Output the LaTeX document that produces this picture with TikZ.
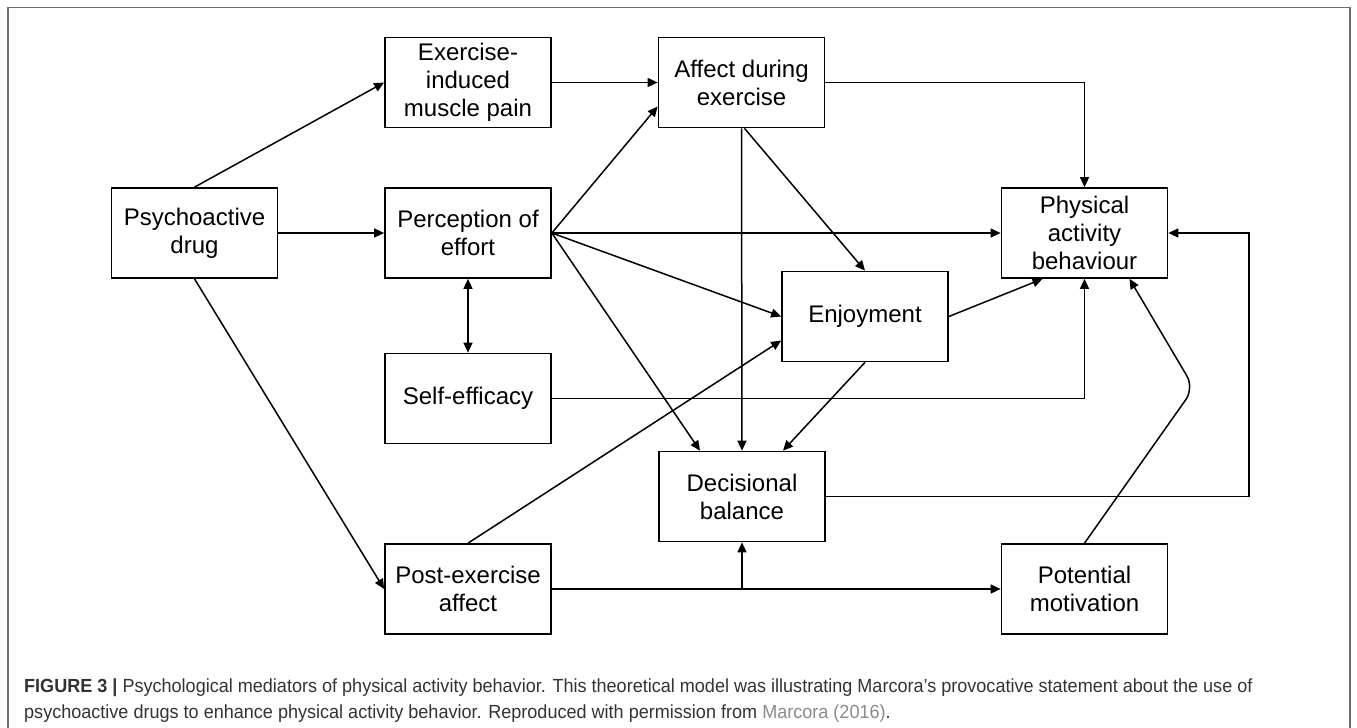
\documentclass[tikz,border=0pt]{standalone}
\usepackage{fontspec}
\setmainfont{Liberation Sans}
\newfontfamily\capfont[FakeStretch=0.95]{Liberation Sans}
\usetikzlibrary{positioning,arrows.meta}
\definecolor{framegray}{HTML}{6E6E6E}
\definecolor{linkgray}{HTML}{8A8A8A}
\definecolor{captext}{HTML}{333333}

\begin{document}
\begin{tikzpicture}[x=1pt,y=-1pt,
	box/.style={draw, line width=1.7pt, minimum width=166pt, minimum height=90pt,
		align=center, inner sep=2pt, font=\fontsize{24}{28}\selectfont},
	arr/.style={-{Triangle[length=10pt,width=9pt]}, line width=1.5pt},
	dbl/.style={{Triangle[length=10pt,width=9pt]}-{Triangle[length=10pt,width=9pt]}, line width=1.5pt},
	captxt/.style={anchor=base west, inner sep=0pt, text=captext,
		font=\capfont\fontsize{19}{22}\selectfont}]

	\useasboundingbox (0,0) rectangle (1357,728);
	\draw[framegray, line width=1.5pt] (8,728) -- (8,7.5) -- (1350,7.5) -- (1350,728);

	\node[box] (drug) at (194.5,233) {Psychoactive\\drug};
	\node[box] (pain) at (468,82.5) {Exercise-\\induced\\muscle pain};
	\node[box] (effort) at (468,233) {Perception of\\effort};
	\node[box] (selfeff) at (468,398.5) {Self-efficacy};
	\node[box] (post) at (468,589) {Post-exercise\\affect};
	\node[box] (affect) at (741.5,82.5) {Affect during\\exercise};
	\node[box] (enjoy) at (865,316.5) {Enjoyment};
	\node[box] (decis) at (742,496.5) {Decisional\\balance};
	\node[box] (phys) at (1084.5,233) {Physical\\activity\\behaviour};
	\node[box] (motiv) at (1084.5,589) {Potential\\motivation};

	\draw[arr] (drug.north) -- (pain.west);
	\draw[arr] (drug.east) -- (effort.west);
	\draw[arr] (drug.south) -- (post.west);
	\draw[dbl] (effort.south) -- (selfeff.north);
	\draw[arr] (pain.east) -- (affect.west);

	\draw[arr] (effort.east) -- ([yshift=-24pt]affect.west);
	\draw[arr] (effort.east) -- (phys.west);
	\draw[arr] (effort.east) -- (enjoy.west);
	\draw[arr] (effort.east) -- ([xshift=-42pt]decis.north);

	\draw[arr] (affect.south) -- (decis.north);
	\draw[arr] ([xshift=3pt]affect.south) -- (enjoy.north);
	\draw[arr] (affect.east) -| (phys.north);

	\draw[arr] (enjoy.east) -- ([xshift=-42pt]phys.south);
	\draw[arr] (enjoy.south) -- ([xshift=41pt]decis.north);
	\draw[arr] (post.north) -- ([yshift=-24pt]enjoy.west);
	\draw[arr] (selfeff.east) -| (phys.south);

	\coordinate (loop) at (1249,496.5);
	\draw[arr] (decis.east) -- (loop) |- (phys.east);
	\draw[arr] (post.east) -- (motiv.west);
	\draw[arr] (post.east -| decis.south) -- (decis.south);

	\coordinate (bend) at (1194,388);
	\draw[arr, rounded corners=14pt] (motiv.north) -- (bend) -- ([xshift=45pt]phys.south);

	\node[captxt] (cap1) at (24,692) {\textbf{FIGURE 3 |} Psychological mediators of physical activity behavior. This theoretical model was illustrating Marcora’s provocative statement about the use of};
	\node[captxt] (cap2) at (24,718) {psychoactive drugs to enhance physical activity behavior. Reproduced with permission from {\color{linkgray}Marcora (2016)}.};

\end{tikzpicture}
\end{document}
